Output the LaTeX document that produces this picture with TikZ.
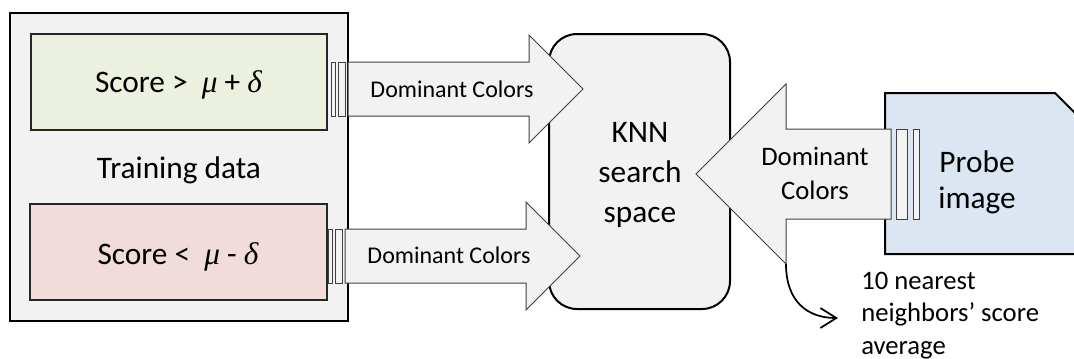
\documentclass[tikz,border=0pt]{standalone}
\usepackage{fontspec}
\setmainfont{Carlito}
\newfontfamily\grkfont{Liberation Serif}
\usetikzlibrary{arrows.meta}
\definecolor{panel}{HTML}{F2F2F2}
\definecolor{greenfill}{HTML}{EBF1DE}
\definecolor{redfill}{HTML}{F2DCDB}
\definecolor{bluefill}{HTML}{DCE6F2}
\definecolor{edgegrey}{HTML}{404040}
\newcommand{\gk}[1]{{\grkfont\itshape #1}}
\begin{document}
\begin{tikzpicture}[x=0.75pt,y=-0.75pt,
  boxline/.style={draw=black, line width=1.5pt},
  blockarrow/.style={draw=edgegrey, fill=panel, line width=0.75pt, line join=miter},
  stripe/.style={draw=edgegrey, fill=panel, line width=0.75pt},
  bigtext/.style={font=\fontsize{23.5}{30}\selectfont, inner sep=0pt},
  arrowtext/.style={font=\fontsize{18}{21}\selectfont, inner sep=0pt},
  probetext/.style={font=\fontsize{20}{25.5}\selectfont, inner sep=0pt, align=center},
  notetext/.style={font=\fontsize{20}{24.4}\selectfont, inner sep=0pt, align=left},
  connector/.style={draw=black, line width=1.3pt, -{Straight Barb[length=12pt,width=15pt,line width=1.3pt]}}
]
\useasboundingbox (0,0) rectangle (1074,358);
\clip (0,0) rectangle (1074,358);
\fill[white] (0,0) rectangle (1074,358);

% training data panel
\node[boxline, fill=panel, minimum width=253.5pt, minimum height=231pt, inner sep=0pt] (train) at (179,167) {};
\node[boxline, draw=black!85, fill=greenfill, minimum width=222pt, minimum height=72pt, inner sep=0pt] (hi) at (179,82) {};
\node[boxline, draw=black!85, fill=redfill, minimum width=222.75pt, minimum height=72pt, inner sep=0pt] (lo) at (178.5,252) {};
\node[bigtext, anchor=base] (hitext) at (178.5,92) {Score >\ \ \gk{μ} + \gk{δ}};
\node[bigtext, anchor=base] (lotext) at (178,264) {Score <\ \ \gk{μ} - \gk{δ}};
\node[bigtext, anchor=base] (traintext) at (179,178) {Training data};

% KNN search space
\node[boxline, fill=panel, rounded corners=21pt, minimum width=135.75pt, minimum height=206.25pt, inner sep=0pt] (knn) at (639.5,171.5) {};
\node[font=\fontsize{23.5}{30}\selectfont, inner sep=0pt, align=center, anchor=base] (knntext) at (640,222) {KNN\\search\\space};

% probe image
\path[boxline, fill=bluefill] (885,93) -- (1055,93) -- (1110,148) -- (1110,254) -- (885,254) -- cycle;
\node[font=\fontsize{23.5}{27}\selectfont, inner sep=0pt, align=center, anchor=base] (probe) at (977,208) {Probe\\image};

% top arrow
\draw[stripe] (331,62) rectangle (335,116);
\draw[stripe] (338,62) rectangle (345,116);
\draw[blockarrow] (348,62) -- (529,62) -- (529,35) -- (583,89) -- (529,143) -- (529,116) -- (348,116) -- cycle;
\node[arrowtext, anchor=base] (topdc) at (452,97) {Dominant Colors};

% bottom arrow
\draw[stripe] (328,229) rectangle (332,283);
\draw[stripe] (335,229) rectangle (342,283);
\draw[blockarrow] (345,229) -- (526,229) -- (526,202) -- (580,256) -- (526,310) -- (526,283) -- (345,283) -- cycle;
\node[arrowtext, anchor=base] (botdc) at (449,263) {Dominant Colors};

% probe arrow
\draw[blockarrow] (891,129) -- (786,129) -- (786,84) -- (696,174) -- (786,264) -- (786,219) -- (891,219) -- cycle;
\draw[stripe] (896,129) rectangle (907,219);
\draw[stripe] (913,129) rectangle (919,219);
\node[probetext, anchor=base] (probedc) at (815,199) {Dominant\\Colors};

% result
\coordinate (headbot) at (786,264);
\node[notetext, anchor=base west] (note) at (861,354.5) {10 nearest\\neighbors’ score\\average};
\coordinate (noteend) at (838,318);
\draw[connector] (headbot) .. controls (786,302) and (808,318) .. (noteend);
\end{tikzpicture}
\end{document}
